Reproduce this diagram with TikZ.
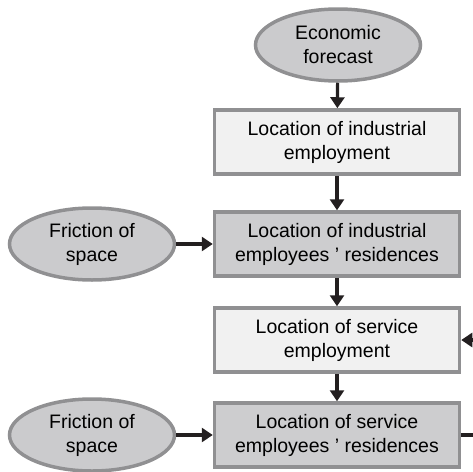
\documentclass[tikz,border=0pt]{standalone}
\usepackage{fontspec}
\setmainfont{Liberation Sans}
\usetikzlibrary{shapes.geometric,arrows.meta}
\definecolor{rimgray}{HTML}{909092}
\definecolor{ovalfill}{HTML}{CBCBCD}
\definecolor{paleboxfill}{HTML}{F1F1F1}
\definecolor{darkboxfill}{HTML}{CDCDCF}
\definecolor{arrowink}{HTML}{231F20}
\begin{document}
\begin{tikzpicture}[x=1pt, y=-1pt,
        every node/.style={font=\fontsize{19.5}{24}\selectfont, align=center, inner sep=0pt},
        oval/.style={ellipse, draw=rimgray, line width=3.5pt, fill=ovalfill,
            minimum width=165, minimum height=72},
        stage/.style={rectangle, draw=rimgray, line width=3.5pt,
            minimum width=245, minimum height=64},
        pale/.style={stage, fill=paleboxfill},
        dark/.style={stage, fill=darkboxfill},
        flow/.style={draw=arrowink, line width=3.2pt,
            -{Triangle[length=11pt,width=14pt]}},
        link/.style={draw=arrowink, line width=3.2pt}]
        \useasboundingbox (0,0) rectangle (473,471);
        \node[oval] (forecast) at (338,45) {Economic\\forecast};
        \node[pale] (indemp) at (337,142) {Location of industrial\\employment};
        \node[dark] (indres) at (337,244) {Location of industrial\\employees ’ residences};
        \node[pale] (seremp) at (337,340) {Location of service\\employment};
        \node[dark] (serres) at (337,435) {Location of service\\employees ’ residences};
        \node[oval] (friction1) at (92,244) {Friction of\\space};
        \node[oval] (friction2) at (92,435) {Friction of\\space};
        \coordinate (loopin) at (473,340);
        \coordinate (loopout) at (473,435);
        \draw[flow] (forecast) -- (indemp);
        \draw[flow] (indemp) -- (indres);
        \draw[flow] (indres) -- (seremp);
        \draw[flow] (seremp) -- (serres);
        \draw[flow] (friction1) -- (indres);
        \draw[flow] (friction2) -- (serres);
        \draw[flow] (loopin) -- (seremp);
        \draw[link] (serres) -- (loopout);
    \end{tikzpicture}
\end{document}
